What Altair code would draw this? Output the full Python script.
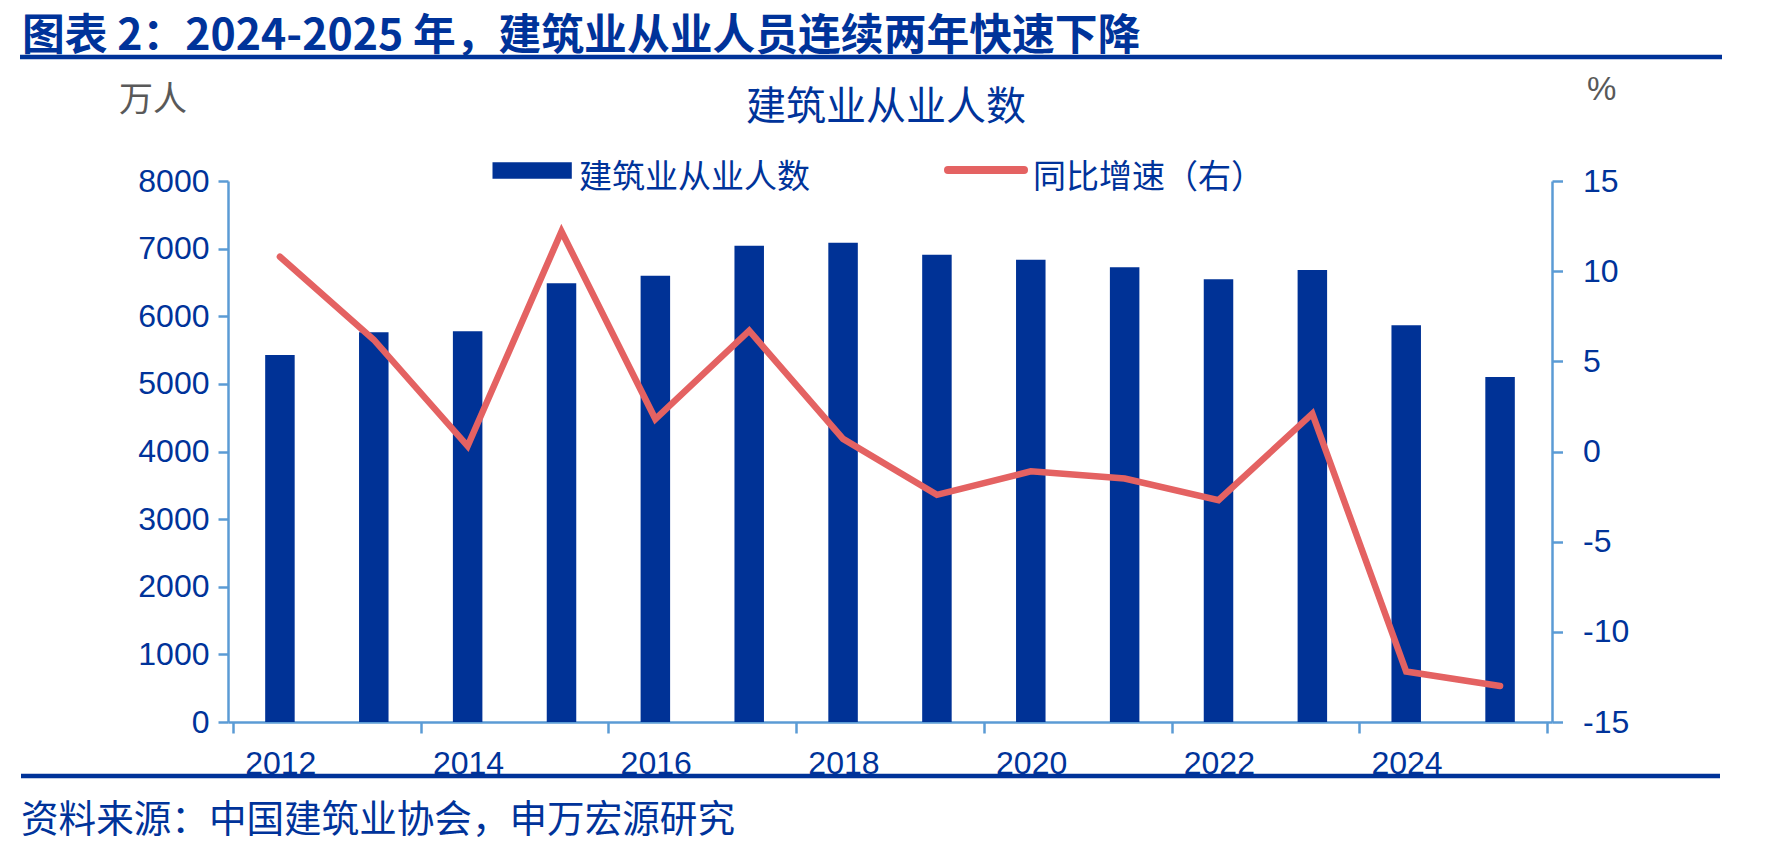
import altair as alt
import pandas as pd

# ---- data ----
years = [2012, 2013, 2014, 2015, 2016, 2017, 2018, 2019, 2020, 2021, 2022, 2023, 2024, 2025]
workers = [5427, 5763, 5777, 6487, 6600, 7044, 7088, 6911, 6837, 6723, 6546, 6683, 5868, 5103]
growth = [10.8, 6.2, 0.3, 12.2, 1.8, 6.7, 0.7, -2.4, -1.1, -1.5, -2.7, 2.1, -12.2, -13.0]
left_ticks = [0, 1000, 2000, 3000, 4000, 5000, 6000, 7000, 8000]
right_ticks = [-15, -10, -5, 0, 5, 10, 15]
x_tick_edges = [2011.5, 2013.5, 2015.5, 2017.5, 2019.5, 2021.5, 2023.5, 2025.5]

header = "图表 2：2024-2025 年，建筑业从业人员连续两年快速下降"
chart_title = "建筑业从业人数"
left_unit = "万人"
right_unit = "%"
legend_bar = "建筑业从业人数"
legend_line = "同比增速（右）"
source = "资料来源：中国建筑业协会，申万宏源研究"

BLUE = "#003296"
RED = "#E46262"
AXIS = "#5B9BD5"
TXT = "#00339A"
GRAY = "#595959"
CJK = "Noto Sans CJK SC"
LAT = "Liberation Sans"

W, H = 1324, 541

df = pd.DataFrame({"year": years, "workers": workers, "growth": growth})

xscale = alt.Scale(domain=[2011.5, 2025.5], nice=False, zero=False)
xaxis = alt.Axis(
    values=x_tick_edges,
    labelExpr="datum.value < 2025 ? toString(datum.value + 0.5) : ''",
    labelOffset=W / 14 / 2,
    tickSize=11, tickWidth=2.5, tickColor=AXIS,
    domainColor=AXIS, domainWidth=2.5,
    labelFont=LAT, labelFontSize=32, labelColor=TXT, labelPadding=15,
    labelAngle=0, grid=False, title=None, labelFlush=False, labelOverlap=False,
)

bars = alt.Chart(df).mark_bar(size=29.5, color=BLUE).encode(
    x=alt.X("year:Q", scale=xscale, axis=xaxis),
    y=alt.Y(
        "workers:Q",
        scale=alt.Scale(domain=[0, 8000], nice=False),
        axis=alt.Axis(
            values=left_ticks, orient="left", tickSize=10, tickWidth=2.5, tickColor=AXIS,
            domainColor=AXIS, domainWidth=2.5, labelFont=LAT, labelFontSize=32,
            labelColor=TXT, labelPadding=9, grid=False, title=None, format="d",
        ),
    ),
)

line = alt.Chart(df).mark_line(
    color=RED, strokeWidth=6.5, strokeCap="round", strokeJoin="miter"
).encode(
    x=alt.X("year:Q", scale=xscale),
    y=alt.Y(
        "growth:Q",
        scale=alt.Scale(domain=[-15, 15], nice=False),
        axis=alt.Axis(
            values=right_ticks, orient="right", tickSize=10.5, tickWidth=2.5, tickColor=AXIS,
            domainColor=AXIS, domainWidth=2.5, labelFont=LAT, labelFontSize=32,
            labelColor=TXT, labelPadding=20, grid=False, title=None,
            labelExpr="toString(datum.value)",
        ),
    ),
)


def text_layer(t, x, y, size, color, font=CJK, align="left", weight="normal"):
    return alt.Chart(pd.DataFrame({"t": [t]})).mark_text(
        align=align, baseline="alphabetic", font=font, fontSize=size,
        color=color, fontWeight=weight,
    ).encode(text="t:N", x=alt.value(x), y=alt.value(y))


def hrule(x1, x2, y, width, color, cap="butt"):
    return alt.Chart(pd.DataFrame({"a": [0]})).mark_rule(
        color=color, strokeWidth=width, strokeCap=cap
    ).encode(x=alt.value(x1), x2=alt.value(x2), y=alt.value(y))


header_t = text_layer(header, -206, -131, 42.8, TXT, weight="bold")
top_rule = hrule(-208, 1494, -124, 4.5, "#003399")
bottom_rule = hrule(-207, 1492, 595, 4.5, "#003399")
source_t = text_layer(source, -207, 651, 37.6, TXT)
title_t = text_layer(chart_title, 658, -61, 40, TXT, align="center")
lunit_t = text_layer(left_unit, -109, -70, 34, GRAY)
runit_t = text_layer(right_unit, 1359, -81, 33, GRAY, font=LAT)

leg_rect = alt.Chart(pd.DataFrame({"a": [0]})).mark_rect(color=BLUE).encode(
    x=alt.value(264.5), x2=alt.value(343.8), y=alt.value(-18.7), y2=alt.value(-2.3)
)
leg_t1 = text_layer(legend_bar, 351, 7, 33, TXT)
leg_line = hrule(720, 796, -11, 8, RED, cap="round")
leg_t2 = text_layer(legend_line, 805, 7, 33, TXT)

chart = (
    alt.layer(bars, line)
    .resolve_scale(y="independent")
)
chart = alt.layer(
    chart, header_t, top_rule, bottom_rule, source_t, title_t, lunit_t, runit_t,
    leg_rect, leg_t1, leg_line, leg_t2,
).properties(
    width=W, height=H,
    autosize=alt.AutoSizeParams(type="none"),
    padding={"left": 228, "top": 181, "right": 227, "bottom": 130},
    background="white",
).configure_view(stroke=None)

chart.save("out.html", embed_options={"renderer": "svg", "actions": False})
